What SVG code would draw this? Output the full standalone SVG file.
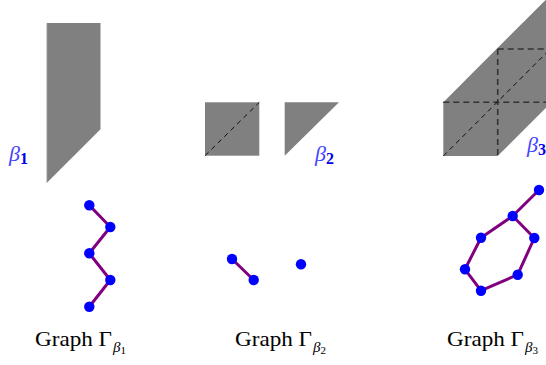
<svg xmlns="http://www.w3.org/2000/svg" width="546" height="365" viewBox="0 0 546 365">
<style>
.cell{fill:#808080;stroke:none}
.diag{stroke:#000;stroke-width:0.9;stroke-dasharray:5,4;fill:none}
.grid{stroke:#333;stroke-width:1.6;stroke-dasharray:6,4;fill:none}
.edge{stroke:#800080;stroke-width:3;stroke-linecap:round}
.node{fill:#0000ff}
.beta{font-family:"Liberation Serif",serif;font-style:italic;font-size:22px;fill:#4444ff}
.sub{font-family:"Liberation Serif",serif;font-weight:bold;font-style:normal;font-size:16px;fill:#0000ee}
.cap{font-family:"Liberation Serif",serif;font-size:21px;fill:#000}
.cs{font-style:italic;font-size:15px}
.cd{font-size:11px}
</style>
<rect width="546" height="365" fill="#fff"/>
<g id="shape1">
<polygon class="cell" points="46.7,23 100.5,23 100.5,129.3 46.7,183"/>
<line x1="46.7" y1="23" x2="46.7" y2="183" stroke="#c8c8c8" stroke-width="0.8"/>
<text class="beta" x="9" y="161">β<tspan class="sub" dy="3">1</tspan></text>
</g>
<g id="shape2">
<rect class="cell" x="205" y="102.3" width="54.3" height="53.4"/>
<line class="diag" x1="205" y1="155.7" x2="259.3" y2="102.3"/>
<polygon class="cell" points="284.7,102.3 339,102.3 284.7,155.7"/>
<text class="beta" x="315" y="161">β<tspan class="sub" dy="3">2</tspan></text>
</g>
<g id="shape3">
<polygon class="cell" points="443.3,156 443.3,102.3 560,-14.4 560,93.7 497.7,156"/>
<line class="grid" x1="443.3" y1="102.3" x2="546" y2="102.3"/>
<line class="grid" x1="497.7" y1="49" x2="546" y2="49"/>
<line class="grid" x1="497.7" y1="49" x2="497.7" y2="156"/>
<line class="diag" x1="443.3" y1="156" x2="550" y2="49.3"/>
<text class="beta" x="527" y="152">β<tspan class="sub" dy="3">3</tspan></text>
</g>
<g id="connectors">
<line class="edge" x1="89.3" y1="205.3" x2="110.3" y2="227"/>
<line class="edge" x1="110.3" y1="227" x2="89.3" y2="253.3"/>
<line class="edge" x1="89.3" y1="253.3" x2="110.3" y2="280"/>
<line class="edge" x1="110.3" y1="280" x2="89.3" y2="306.7"/>
<line class="edge" x1="232" y1="259" x2="253.7" y2="280"/>
<line class="edge" x1="539" y1="190" x2="512.7" y2="216"/>
<line class="edge" x1="512.7" y1="216" x2="534.3" y2="238"/>
<line class="edge" x1="512.7" y1="216" x2="481" y2="237.7"/>
<line class="edge" x1="481" y1="237.7" x2="465" y2="269.3"/>
<line class="edge" x1="465" y1="269.3" x2="481" y2="290.7"/>
<line class="edge" x1="481" y1="290.7" x2="517.7" y2="274.7"/>
<line class="edge" x1="517.7" y1="274.7" x2="534.3" y2="238"/>
</g>
<g id="graph1">
<circle class="node" cx="89.3" cy="205.3" r="5.2"/>
<circle class="node" cx="110.3" cy="227" r="5.2"/>
<circle class="node" cx="89.3" cy="253.3" r="5.2"/>
<circle class="node" cx="110.3" cy="280" r="5.2"/>
<circle class="node" cx="89.3" cy="306.7" r="5.2"/>
<text class="cap" x="35" y="346"><tspan textLength="77" lengthAdjust="spacingAndGlyphs">Graph Γ</tspan><tspan class="cs" x="113" dy="6">β</tspan><tspan class="cd" dy="2">1</tspan></text>
</g>
<g id="graph2">
<circle class="node" cx="232" cy="259" r="5.2"/>
<circle class="node" cx="253.7" cy="280" r="5.2"/>
<circle class="node" cx="301" cy="264.3" r="5.2"/>
<text class="cap" x="235" y="346"><tspan textLength="77" lengthAdjust="spacingAndGlyphs">Graph Γ</tspan><tspan class="cs" x="313" dy="6">β</tspan><tspan class="cd" dy="2">2</tspan></text>
</g>
<g id="graph3">
<circle class="node" cx="539" cy="190" r="5.2"/>
<circle class="node" cx="512.7" cy="216" r="5.2"/>
<circle class="node" cx="534.3" cy="238" r="5.2"/>
<circle class="node" cx="481" cy="237.7" r="5.2"/>
<circle class="node" cx="465" cy="269.3" r="5.2"/>
<circle class="node" cx="517.7" cy="274.7" r="5.2"/>
<circle class="node" cx="481" cy="290.7" r="5.2"/>
<text class="cap" x="447" y="346"><tspan textLength="77" lengthAdjust="spacingAndGlyphs">Graph Γ</tspan><tspan class="cs" x="525" dy="6">β</tspan><tspan class="cd" dy="2">3</tspan></text>
</g>
</svg>
